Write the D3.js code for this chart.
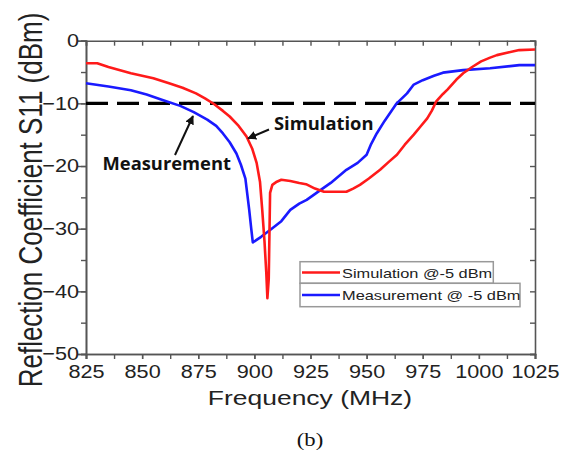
<!DOCTYPE html>
<html>
<head>
<meta charset="utf-8">
<script src="https://cdn.jsdelivr.net/npm/d3@7"></script>
<style>
  body { margin: 0; background: #fff; }
  svg { display: block; }
</style>
</head>
<body>
<div id="chart"></div>
<script>
// simulation @-5 dBm
const simFreq = [825, 830, 835, 845, 855, 862, 868, 874, 878, 882, 886, 889, 893, 896.5, 899, 901, 902.5, 903.5, 904.5, 905.3, 905.8, 906.4, 907, 908, 910, 912, 916, 920, 923, 927, 931, 937, 941, 944, 947, 951, 956, 960, 963.5, 967, 971, 974, 977, 979, 981, 984, 986, 990, 993, 997, 1001, 1005, 1008, 1013, 1018, 1025];
const simS11 = [-3.6, -3.6, -4.2, -5.2, -6.0, -6.8, -7.5, -8.4, -9.2, -10.1, -11.2, -12.1, -13.6, -15.3, -17.2, -19.5, -22.5, -27, -32, -37, -41.1, -38, -24.3, -23, -22.5, -22.2, -22.4, -22.7, -22.9, -23.6, -24.1, -24.1, -24.1, -23.6, -23.0, -22.0, -20.6, -19.3, -18.2, -16.6, -15.0, -13.7, -12.4, -11.2, -9.7, -8.5, -7.8, -6.2, -5.2, -4.2, -3.3, -2.7, -2.3, -1.9, -1.5, -1.4];

// measurement @ -5 dBm
const measFreq = [825, 835, 845, 852, 859.4, 867, 873, 879, 883, 886, 889, 892, 894, 896, 897.7, 898.6, 899.3, 903, 907, 912, 916, 920, 923.3, 928, 934, 941, 946, 950, 952, 954.5, 958, 963.4, 968, 971, 975, 980, 984, 993, 1005, 1018, 1025];
const measS11 = [-6.8, -7.3, -7.9, -8.6, -9.5, -10.4, -11.4, -12.6, -13.6, -14.8, -16.2, -18, -19.8, -22, -27, -30, -32.2, -31.3, -30.2, -28.8, -27, -26.0, -25.4, -24.2, -22.7, -20.6, -19.5, -18.2, -16.5, -14.8, -12.8, -10, -8.4, -7.0, -6.3, -5.6, -5.1, -4.7, -4.4, -3.9, -3.9];

const xTicks = [825, 850, 875, 900, 925, 950, 975, 1000, 1025];
const yTicks = [0, -10, -20, -30, -40, -50];
const threshold = -10;
const legendLabels = ["Simulation @-5 dBm", "Measurement @ -5 dBm"];

const W = 570, H = 454;
const margin = {top: 40.7, right: 35, bottom: 100, left: 86};
const width = W - margin.left - margin.right,
      height = H - margin.top - margin.bottom;
const sx = 1.26; // horizontal stretch of the original figure
const tickSx = 1.17;

const svg = d3.select("#chart").append("svg")
    .attr("width", W)
    .attr("height", H);

const g = svg.append("g")
    .attr("transform", "translate(" + margin.left + "," + margin.top + ")");

const x = d3.scaleLinear().domain([825, 1025]).range([0, width]);
const y = d3.scaleLinear().domain([-50, 0]).range([height, 0]);

const axisColor = "#555";

// minor ticks
const xMinor = d3.range(825, 1025.1, 12.5);
const yMinor = d3.range(-50, 0.1, 5);

// bottom axis
g.append("g")
    .attr("transform", "translate(0," + height + ")")
    .call(d3.axisBottom(x).tickValues(xMinor).tickSize(5).tickFormat(""));
const xAxisLab = g.append("g")
    .attr("transform", "translate(0," + height + ")")
    .call(d3.axisBottom(x).tickValues(xTicks).tickSize(5).tickPadding(6).tickFormat(d3.format("d")));
xAxisLab.selectAll("text")
    .attr("transform", "scale(" + tickSx + ",1)")
    .style("font-family", "'Liberation Sans', Arial, sans-serif")
    .style("font-size", "18.5px")
    .style("fill", "#222");

// left axis
g.append("g")
    .call(d3.axisLeft(y).tickValues(yMinor).tickSize(5).tickFormat(""));
const yAxisLab = g.append("g")
    .call(d3.axisLeft(y).tickValues(yTicks).tickSize(8).tickFormat(d3.format("d")));
yAxisLab.selectAll("text")
    .attr("x", -6)
    .attr("transform", "scale(" + tickSx + ",1)")
    .style("font-family", "'Liberation Sans', Arial, sans-serif")
    .style("font-size", "18.5px")
    .style("fill", "#222");

// top and right axes, ticks pointing in
g.append("g")
    .call(d3.axisBottom(x).tickValues(xMinor).tickSize(5).tickFormat(""));
g.append("g")
    .attr("transform", "translate(" + width + ",0)")
    .call(d3.axisLeft(y).tickValues(yMinor).tickSize(5).tickFormat(""));

g.selectAll(".domain").attr("stroke", axisColor).attr("stroke-width", 1.6);
g.selectAll(".tick line").attr("stroke", axisColor).attr("stroke-width", 1.4);

// threshold line
g.append("line")
    .attr("x1", x(825)).attr("x2", x(1025))
    .attr("y1", y(threshold)).attr("y2", y(threshold))
    .attr("stroke", "#000")
    .attr("stroke-width", 3.2)
    .attr("stroke-dasharray", "22,9");

const line = d3.line()
    .x(d => x(d[0]))
    .y(d => y(d[1]));

const measData = measFreq.map((f, i) => [f, measS11[i]]);
const simData = simFreq.map((f, i) => [f, simS11[i]]);

g.append("path")
    .datum(measData)
    .attr("fill", "none")
    .attr("stroke", "#1a1aff")
    .attr("stroke-width", 2.6)
    .attr("stroke-linejoin", "round")
    .attr("d", line);

g.append("path")
    .datum(simData)
    .attr("fill", "none")
    .attr("stroke", "#ff1a1a")
    .attr("stroke-width", 2.6)
    .attr("stroke-linejoin", "round")
    .attr("d", line);

// arrows and annotations
svg.append("defs").append("marker")
    .attr("id", "arrow")
    .attr("viewBox", "0 0 10 10")
    .attr("refX", 9).attr("refY", 5)
    .attr("markerWidth", 4.5).attr("markerHeight", 4.5)
    .attr("orient", "auto")
  .append("path")
    .attr("d", "M0,0L10,5L0,10z")
    .attr("fill", "#111");

svg.append("line")
    .attr("x1", 175).attr("y1", 155)
    .attr("x2", 193).attr("y2", 116)
    .attr("stroke", "#111").attr("stroke-width", 2)
    .attr("marker-end", "url(#arrow)");

svg.append("line")
    .attr("x1", 269).attr("y1", 129.5)
    .attr("x2", 248).attr("y2", 138.5)
    .attr("stroke", "#111").attr("stroke-width", 2)
    .attr("marker-end", "url(#arrow)");

const annFont = "'Open Sans', 'DejaVu Sans', sans-serif";
svg.append("text")
    .attr("transform", "translate(274,130) scale(1.08,1)")
    .style("font-family", annFont)
    .style("font-weight", "bold")
    .style("font-size", "17px")
    .style("fill", "#111")
    .text("Simulation");

svg.append("text")
    .attr("transform", "translate(231,170) scale(1.08,1)")
    .attr("text-anchor", "end")
    .style("font-family", annFont)
    .style("font-weight", "bold")
    .style("font-size", "17px")
    .style("fill", "#111")
    .text("Measurement");

// legend
const legColors = ["#ff1a1a", "#1a1aff"];
const legBoxes = [{x: 300, y: 261.7, w: 193.3, h: 21.6}, {x: 300, y: 283.3, w: 220, h: 23.4}];
const legend = svg.append("g");
legendLabels.forEach((lab, i) => {
    const b = legBoxes[i];
    legend.append("rect")
        .attr("x", b.x).attr("y", b.y)
        .attr("width", b.w).attr("height", b.h)
        .attr("fill", "#fff")
        .attr("stroke", "#999")
        .attr("stroke-width", 1.5);
    legend.append("line")
        .attr("x1", 302).attr("x2", 340)
        .attr("y1", b.y + b.h / 2).attr("y2", b.y + b.h / 2)
        .attr("stroke", legColors[i])
        .attr("stroke-width", 2.6);
    legend.append("text")
        .attr("transform", "translate(342," + (b.y + b.h / 2 + 5) + ") scale(" + sx + ",1)")
        .style("font-family", "'Liberation Sans', Arial, sans-serif")
        .style("font-size", "13px")
        .style("fill", "#222")
        .text(lab);
});

// axis titles
svg.append("text")
    .attr("transform", "translate(310,405) scale(" + sx + ",1)")
    .attr("text-anchor", "middle")
    .style("font-family", "'Liberation Sans', Arial, sans-serif")
    .style("font-size", "21px")
    .style("fill", "#222")
    .text("Frequency (MHz)");

svg.append("text")
    .attr("transform", "translate(42,200) scale(" + sx + ",1) rotate(-90)")
    .attr("text-anchor", "middle")
    .style("font-family", "'Liberation Sans', Arial, sans-serif")
    .style("font-size", "26px")
    .style("fill", "#222")
    .text("Reflection Coefficient S11 (dBm)");

svg.append("text")
    .attr("transform", "translate(310,446) scale(" + sx + ",1)")
    .attr("text-anchor", "middle")
    .style("font-family", "'Liberation Serif', 'Times New Roman', serif")
    .style("font-size", "18px")
    .style("fill", "#111")
    .text("(b)");
</script>
</body>
</html>
